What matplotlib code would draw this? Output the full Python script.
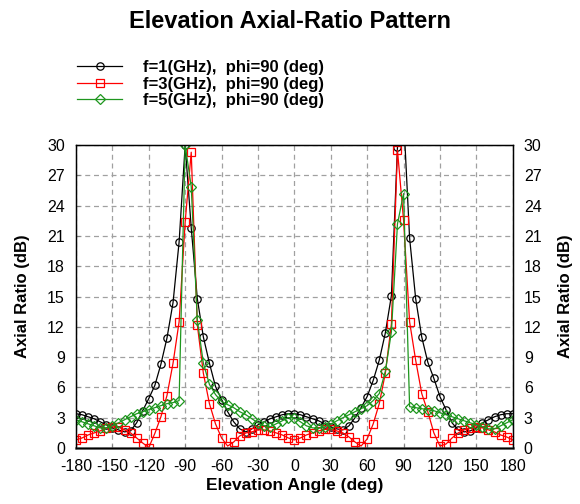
import numpy as np
import matplotlib
matplotlib.use("Agg")
import matplotlib.pyplot as plt

plt.rcParams['font.family'] = ['Liberation Sans', 'DejaVu Sans']
plt.rcParams['axes.unicode_minus'] = False

# elevation angle grid (deg), 5 degree steps
angulos = np.arange(-180, 181, 5)

# axial ratio (dB)
ar_1ghz = [3.4, 3.3, 3.1, 2.9, 2.6, 2.3, 2.0, 1.8, 1.6, 1.7,
           2.5, 3.7, 4.9, 6.2, 8.3, 10.9, 14.4, 20.4, 30.0, 21.8,
           14.8, 11.0, 8.4, 6.1, 4.8, 3.6, 2.6, 1.9, 1.6, 1.9,
           2.3, 2.6, 2.9, 3.1, 3.3, 3.4, 3.4, 3.3, 3.1, 2.9,
           2.7, 2.4, 2.1, 1.9, 1.8, 2.2, 3.0, 4.0, 5.1, 6.7,
           8.7, 11.4, 15.1, 29.8, 33.0, 20.8, 14.8, 11.0, 8.5, 6.9,
           5.1, 3.8, 2.5, 1.8, 1.6, 1.7, 2.0, 2.5, 2.8, 3.1,
           3.3, 3.4, 3.4]

ar_3ghz = [0.8, 1.0, 1.3, 1.5, 1.7, 2.0, 2.1, 2.1, 1.8, 1.5,
           1.0, 0.5, 0.05, 1.45, 3.1, 5.2, 8.4, 12.5, 22.4, 29.3,
           12.2, 7.4, 4.4, 2.4, 1.0, 0.2, 0.6, 1.2, 1.5, 1.6,
           1.8, 1.8, 1.7, 1.5, 1.3, 1.0, 0.8, 1.0, 1.3, 1.5,
           1.7, 1.85, 1.85, 1.7, 1.5, 1.1, 0.6, 0.2, 0.9, 2.4,
           4.4, 7.4, 12.3, 29.5, 22.6, 12.5, 8.7, 5.4, 3.6, 1.5,
           0.2, 0.4, 1.0, 1.5, 1.8, 1.95, 2.1, 2.0, 1.8, 1.6,
           1.3, 1.1, 0.8]

ar_5ghz = [2.8, 2.6, 2.4, 2.2, 2.0, 2.0, 2.2, 2.5, 2.8, 3.1,
           3.4, 3.6, 3.8, 4.0, 4.2, 4.4, 4.5, 4.7, 30.0, 25.9,
           12.7, 8.4, 6.3, 5.3, 4.6, 4.3, 4.0, 3.6, 3.3, 2.9,
           2.5, 2.2, 2.1, 2.4, 2.7, 3.0, 3.0, 2.6, 2.2, 2.0,
           1.95, 2.1, 2.35, 2.7, 3.0, 3.3, 3.6, 3.9, 4.2, 4.7,
           5.4, 7.6, 11.5, 22.2, 25.2, 4.1, 4.0, 3.9, 3.8, 3.7,
           3.5, 3.3, 3.1, 2.9, 2.7, 2.5, 2.3, 2.1, 1.9, 1.9,
           2.2, 2.5, 2.8]

etiquetas = ["f=1(GHz),  phi=90 (deg)",
             "f=3(GHz),  phi=90 (deg)",
             "f=5(GHz),  phi=90 (deg)"]
colores = ["black", "#ff0000", "#1e961e"]
marcadores = ["o", "s", "D"]
xticks = list(range(-180, 181, 30))
yticks = list(range(0, 31, 3))

fig = plt.figure(figsize=(5.8, 5.04), dpi=100)
ax = fig.add_axes([0.131, 0.111, 0.753, 0.601])

for serie, color, m, lab in zip([ar_1ghz, ar_3ghz, ar_5ghz], colores, marcadores, etiquetas):
    ms = 4.8 if m == "D" else 5.3
    ax.plot(angulos, serie, color=color, lw=0.9, marker=m, ms=ms,
            mfc="none", mec=color, mew=0.9, label=lab)

ax.set_xlim(-180, 180)
ax.set_ylim(0, 30)
ax.set_xticks(xticks)
ax.set_yticks(yticks)
ax.grid(True, color="#a0a0a0", ls=(0, (4, 3)), lw=0.9)
ax.tick_params(direction="in", length=3, labelsize=11.5, pad=8, color="#808080")
for s in ["left", "right", "top"]:
    ax.spines[s].set_linewidth(1.0)
ax.spines["bottom"].set_linewidth(1.8)
ax.spines["bottom"].set_color("#404040")

ax2 = ax.twinx()
ax2.set_ylim(0, 30)
ax2.set_yticks(yticks)
ax2.tick_params(direction="in", length=0, labelsize=11.5, pad=8)

ax.set_ylabel("Axial Ratio (dB)", fontsize=12, fontweight="bold", labelpad=12)
ax2.set_ylabel("Axial Ratio (dB)", fontsize=12, fontweight="bold", labelpad=12)
ax.set_xlabel("Elevation Angle (deg)", fontsize=12.5, fontweight="bold", labelpad=3)

fig.text(0.5, 0.958, "Elevation Axial-Ratio Pattern", ha="center", va="center",
         fontsize=17, fontweight="bold")

handles, labels = ax.get_legend_handles_labels()
fig.legend(handles, labels, loc="upper left", bbox_to_anchor=(0.133, 0.881),
           frameon=False, borderpad=0, borderaxespad=0, handlelength=2.7,
           handletextpad=1.25, labelspacing=0.1, prop={"weight": "bold", "size": 12})

fig.savefig("out.png", dpi=100)
